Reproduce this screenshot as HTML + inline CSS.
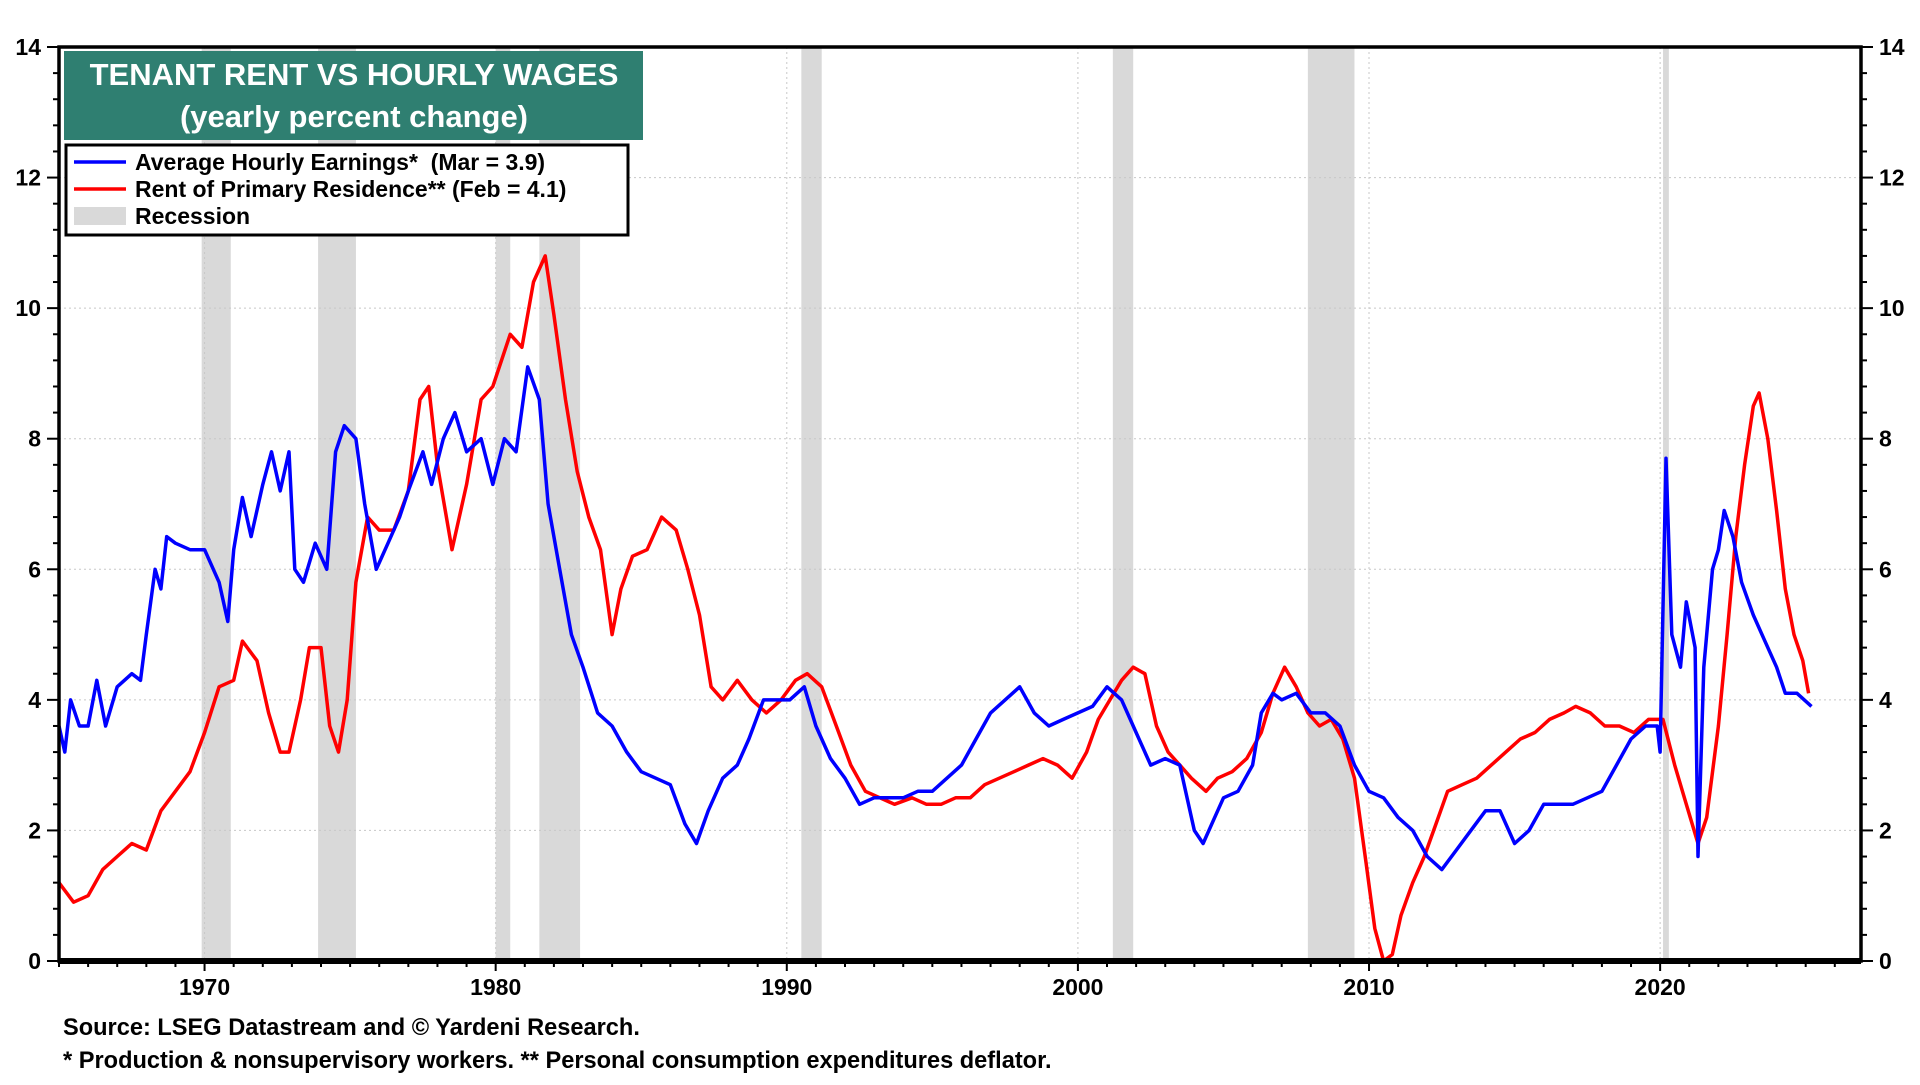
<!DOCTYPE html>
<html><head><meta charset="utf-8"><style>
body{margin:0;background:#fff;font-family:"Liberation Sans",Arial,sans-serif;}
svg text{font-family:"Liberation Sans",Arial,sans-serif;font-weight:bold;white-space:pre;}
</style></head><body>
<svg id="chart" width="1920" height="1080" viewBox="0 0 1920 1080" xmlns="http://www.w3.org/2000/svg">
<g id="rec"></g>
<g id="grid"></g>
<g id="series"></g>
<g id="axes"></g>
<rect x="64" y="51" width="579" height="89" fill="#2f7f71"/>
<text x="354" y="85" font-size="31" fill="#fff" text-anchor="middle">TENANT RENT VS HOURLY WAGES</text>
<text x="354" y="127" font-size="31" fill="#fff" text-anchor="middle">(yearly percent change)</text>
<g>
<rect x="66" y="145" width="562" height="90" fill="#fff" stroke="#000" stroke-width="3"/>
<line x1="74" y1="162" x2="126" y2="162" stroke="#0000ff" stroke-width="3.5"/>
<text x="135" y="170" font-size="23" xml:space="preserve">Average Hourly Earnings*  (Mar = 3.9)</text>
<line x1="74" y1="189" x2="126" y2="189" stroke="#ff0000" stroke-width="3.5"/>
<text x="135" y="197" font-size="23">Rent of Primary Residence** (Feb = 4.1)</text>
<rect x="74" y="207" width="52" height="18" fill="#d9d9d9"/>
<text x="135" y="224" font-size="23">Recession</text>
</g>
<text x="63" y="1035" font-size="23.6">Source: LSEG Datastream and © Yardeni Research.</text>
<text x="63" y="1068" font-size="23.6">* Production &amp; nonsupervisory workers. ** Personal consumption expenditures deflator.</text>
</svg>
<script>
const recessions=[[1969.9,1970.9],[1973.9,1975.2],[1980.0,1980.5],[1981.5,1982.9],[1990.5,1991.2],[2001.2,2001.9],[2007.9,2009.5],[2020.1,2020.3]];
const yTicks=[0,2,4,6,8,10,12,14];
const xTicks=[1970,1980,1990,2000,2010,2020];
const earnings=[[1965.0,3.6],[1965.2,3.2],[1965.4,4.0],[1965.7,3.6],[1966,3.6],[1966.3,4.3],[1966.6,3.6],[1967,4.2],[1967.5,4.4],[1967.8,4.3],[1968,5.0],[1968.3,6.0],[1968.5,5.7],[1968.7,6.5],[1969,6.4],[1969.5,6.3],[1970,6.3],[1970.5,5.8],[1970.8,5.2],[1971,6.3],[1971.3,7.1],[1971.6,6.5],[1972,7.3],[1972.3,7.8],[1972.6,7.2],[1972.9,7.8],[1973.1,6.0],[1973.4,5.8],[1973.8,6.4],[1974.2,6.0],[1974.5,7.8],[1974.8,8.2],[1975.2,8.0],[1975.5,7.0],[1975.9,6.0],[1976.3,6.4],[1976.7,6.8],[1977,7.2],[1977.5,7.8],[1977.8,7.3],[1978.2,8.0],[1978.6,8.4],[1979,7.8],[1979.5,8.0],[1979.9,7.3],[1980.3,8.0],[1980.7,7.8],[1981.1,9.1],[1981.5,8.6],[1981.8,7.0],[1982.2,6.0],[1982.6,5.0],[1983,4.5],[1983.5,3.8],[1984,3.6],[1984.5,3.2],[1985,2.9],[1985.5,2.8],[1986,2.7],[1986.5,2.1],[1986.9,1.8],[1987.3,2.3],[1987.8,2.8],[1988.3,3.0],[1988.7,3.4],[1989.2,4.0],[1989.6,4.0],[1990.1,4.0],[1990.6,4.2],[1991,3.6],[1991.5,3.1],[1992,2.8],[1992.5,2.4],[1993,2.5],[1993.5,2.5],[1994,2.5],[1994.5,2.6],[1995,2.6],[1995.5,2.8],[1996,3.0],[1996.5,3.4],[1997,3.8],[1997.5,4.0],[1998,4.2],[1998.5,3.8],[1999,3.6],[1999.5,3.7],[2000,3.8],[2000.5,3.9],[2001,4.2],[2001.5,4.0],[2002,3.5],[2002.5,3.0],[2003,3.1],[2003.5,3.0],[2004,2.0],[2004.3,1.8],[2004.7,2.2],[2005,2.5],[2005.5,2.6],[2006,3.0],[2006.3,3.8],[2006.7,4.1],[2007,4.0],[2007.5,4.1],[2008,3.8],[2008.5,3.8],[2009,3.6],[2009.5,3.0],[2010,2.6],[2010.5,2.5],[2011,2.2],[2011.5,2.0],[2012,1.6],[2012.5,1.4],[2013,1.7],[2013.5,2.0],[2014,2.3],[2014.5,2.3],[2015,1.8],[2015.5,2.0],[2016,2.4],[2016.5,2.4],[2017,2.4],[2017.5,2.5],[2018,2.6],[2018.5,3.0],[2019,3.4],[2019.5,3.6],[2019.9,3.6],[2020.0,3.2],[2020.2,7.7],[2020.4,5.0],[2020.7,4.5],[2020.9,5.5],[2021.2,4.8],[2021.3,1.6],[2021.5,4.5],[2021.8,6.0],[2022.0,6.3],[2022.2,6.9],[2022.5,6.5],[2022.8,5.8],[2023.2,5.3],[2023.6,4.9],[2024,4.5],[2024.3,4.1],[2024.7,4.1],[2025.2,3.9]];
const rent=[[1965,1.2],[1965.5,0.9],[1966,1.0],[1966.5,1.4],[1967,1.6],[1967.5,1.8],[1968,1.7],[1968.5,2.3],[1969,2.6],[1969.5,2.9],[1970,3.5],[1970.5,4.2],[1971,4.3],[1971.3,4.9],[1971.8,4.6],[1972.2,3.8],[1972.6,3.2],[1972.9,3.2],[1973.3,4.0],[1973.6,4.8],[1974,4.8],[1974.3,3.6],[1974.6,3.2],[1974.9,4.0],[1975.2,5.8],[1975.6,6.8],[1976,6.6],[1976.5,6.6],[1977,7.2],[1977.4,8.6],[1977.7,8.8],[1978,7.6],[1978.5,6.3],[1979,7.3],[1979.5,8.6],[1979.9,8.8],[1980.2,9.2],[1980.5,9.6],[1980.9,9.4],[1981.3,10.4],[1981.7,10.8],[1982,9.9],[1982.4,8.6],[1982.8,7.5],[1983.2,6.8],[1983.6,6.3],[1984,5.0],[1984.3,5.7],[1984.7,6.2],[1985.2,6.3],[1985.7,6.8],[1986.2,6.6],[1986.6,6.0],[1987,5.3],[1987.4,4.2],[1987.8,4.0],[1988.3,4.3],[1988.8,4.0],[1989.3,3.8],[1989.8,4.0],[1990.3,4.3],[1990.7,4.4],[1991.2,4.2],[1991.7,3.6],[1992.2,3.0],[1992.7,2.6],[1993.2,2.5],[1993.7,2.4],[1994.3,2.5],[1994.8,2.4],[1995.3,2.4],[1995.8,2.5],[1996.3,2.5],[1996.8,2.7],[1997.3,2.8],[1997.8,2.9],[1998.3,3.0],[1998.8,3.1],[1999.3,3.0],[1999.8,2.8],[2000.3,3.2],[2000.7,3.7],[2001.1,4.0],[2001.5,4.3],[2001.9,4.5],[2002.3,4.4],[2002.7,3.6],[2003.1,3.2],[2003.5,3.0],[2003.9,2.8],[2004.4,2.6],[2004.8,2.8],[2005.3,2.9],[2005.8,3.1],[2006.3,3.5],[2006.7,4.1],[2007.1,4.5],[2007.5,4.2],[2007.9,3.8],[2008.3,3.6],[2008.7,3.7],[2009.1,3.4],[2009.5,2.8],[2009.9,1.5],[2010.2,0.5],[2010.5,0.0],[2010.8,0.1],[2011.1,0.7],[2011.5,1.2],[2011.9,1.6],[2012.3,2.1],[2012.7,2.6],[2013.2,2.7],[2013.7,2.8],[2014.2,3.0],[2014.7,3.2],[2015.2,3.4],[2015.7,3.5],[2016.2,3.7],[2016.7,3.8],[2017.1,3.9],[2017.6,3.8],[2018.1,3.6],[2018.6,3.6],[2019.1,3.5],[2019.6,3.7],[2020.1,3.7],[2020.5,3.0],[2020.9,2.4],[2021.3,1.8],[2021.6,2.2],[2022,3.6],[2022.3,5.0],[2022.6,6.5],[2022.9,7.6],[2023.2,8.5],[2023.4,8.7],[2023.7,8.0],[2024.0,6.9],[2024.3,5.7],[2024.6,5.0],[2024.9,4.6],[2025.1,4.1]];

const L=59,R=1861,T=47,B=961,X0=1965.0,X1=2026.9,Ymax=14;
const NS="http://www.w3.org/2000/svg";
function xs(v){return L+(v-X0)/(X1-X0)*(R-L);}
function ys(v){return B-v/Ymax*(B-T);}
function mk(tag,attrs,parent){const e=document.createElementNS(NS,tag);for(const k in attrs)e.setAttribute(k,attrs[k]);parent.appendChild(e);return e;}
const rec=document.getElementById('rec'),grid=document.getElementById('grid'),ser=document.getElementById('series'),ax=document.getElementById('axes');
recessions.forEach(r=>{const e=mk('rect',{x:xs(r[0]),y:T,width:Math.max(2,xs(r[1])-xs(r[0])),height:B-T,fill:'#d9d9d9'},rec);

});
yTicks.forEach(t=>{if(t>0&&t<14){const e=mk('line',{x1:L,x2:R,y1:ys(t),y2:ys(t),stroke:'#c8c8c8','stroke-dasharray':'2,3','stroke-width':1},grid);

}});
xTicks.forEach(t=>{const e=mk('line',{x1:xs(t),x2:xs(t),y1:T,y2:B,stroke:'#c8c8c8','stroke-dasharray':'2,3','stroke-width':1},grid);

});
function line(d,c,name){const p=mk('polyline',{points:d.map(q=>xs(q[0]).toFixed(1)+','+ys(q[1]).toFixed(1)).join(' '),fill:'none',stroke:c,'stroke-width':3.5,'stroke-linejoin':'round'},ser);

}
line(rent,'#ff0000','rent-line');
line(earnings,'#0000ff','earnings-line');
const fr=mk('rect',{x:L,y:T,width:R-L,height:B-T,fill:'none',stroke:'#000','stroke-width':3.5},ax);


mk('line',{x1:L,x2:R,y1:B,y2:B,stroke:'#000','stroke-width':6},ax);
for(let v=0;v<=14.001;v+=0.4){const y=ys(v),maj=Math.abs(v/2-Math.round(v/2))<0.01;const w=maj?12:6;
mk('line',{x1:L-w,x2:L,y1:y,y2:y,stroke:'#000','stroke-width':2},ax);
mk('line',{x1:R,x2:R+w,y1:y,y2:y,stroke:'#000','stroke-width':2},ax);}
yTicks.forEach(t=>{const a=mk('text',{x:L-18,y:ys(t)+8,'font-size':23,'text-anchor':'end'},ax);a.textContent=t;


const b=mk('text',{x:R+18,y:ys(t)+8,'font-size':23,'text-anchor':'start'},ax);b.textContent=t;

});
for(let yr=1965;yr<=2026;yr++){const maj=yr%10==0;mk('line',{x1:xs(yr),x2:xs(yr),y1:B,y2:B+(maj?10:6),stroke:'#000','stroke-width':2},ax);}
xTicks.forEach(t=>{const a=mk('text',{x:xs(t),y:995,'font-size':23,'text-anchor':'middle'},ax);a.textContent=t;

});
</script>
</body></html>
